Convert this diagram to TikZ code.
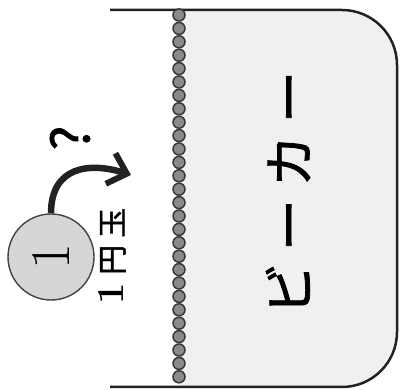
\documentclass[tikz,border=0pt]{standalone}
\usepackage{fontspec}
\usepackage{tikz}
\usetikzlibrary{arrows.meta,positioning,calc}
\newfontfamily\jpfont{Noto Sans CJK JP}[FakeBold=1.5]
\definecolor{WallColor}{RGB}{34,34,34}
\definecolor{WaterColor}{RGB}{240,240,240}
\definecolor{BeadColor}{RGB}{138,138,138}
\definecolor{CoinColor}{RGB}{214,214,214}

\begin{document}
\begin{tikzpicture}[x=1pt, y=1pt,
    wall/.style={draw=WallColor, line width=2.5pt, rounded corners=55pt},
    bead/.style={circle, draw=WallColor!90, fill=BeadColor, line width=1.5pt, inner sep=0pt, minimum size=12pt},
    coin/.style={circle, draw=WallColor!85, fill=CoinColor, line width=1.4pt, inner sep=0pt, minimum size=86pt, font=\fontsize{56}{60}\selectfont},
    coinlabel/.style={rotate=90, font=\fontsize{30}{32}\selectfont\jpfont},
    beakerlabel/.style={rotate=90, font=\fontsize{52}{56}\selectfont\jpfont},
    flow/.style={line width=6.5pt, WallColor, -{Straight Barb[length=17pt, width=32pt, line width=6pt]}}]
  \useasboundingbox (0,0) rectangle (401,390);

  % beaker
  \begin{scope}
    \clip (179,0) rectangle (401,390);
    \fill[WaterColor, rounded corners=55pt] (110,380) -- (397,380) -- (397,3) -- (110,3) -- cycle;
  \end{scope}
  \draw[wall] (110,380) -- (397,380) -- (397,3) -- (110,3);
  \foreach \i in {0,...,27}
    \node[bead] (b\i) at (179, 375-13.4*\i) {};
  \node[beakerlabel] (beaker) at (288,197) {ビ\hspace{12pt}ー\hspace{12pt}カ\hspace{12pt}ー};

  % coin
  \node[coin] (coin) at (51,133) {\rotatebox{90}{1}};
  \node[coinlabel] (coinname) at (112,134) {{\rmfamily\bfseries\fontsize{38}{40}\selectfont 1}\hspace{8pt}円\hspace{7pt}玉};
  \coordinate (target) at (131,215);
  \draw[flow] (coin.north) .. controls (51,224) and (90,228) .. (target);
  \node[rotate=90, font=\fontsize{52}{56}\selectfont\jpfont] (ask) at (70,252) {?};
\end{tikzpicture}
\end{document}
